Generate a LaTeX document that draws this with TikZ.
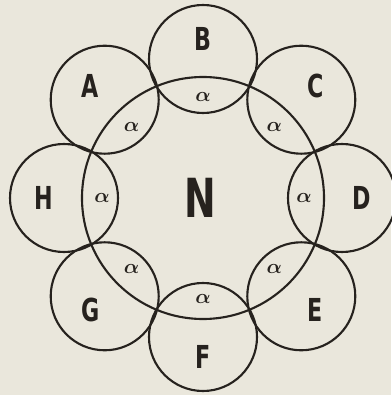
\documentclass[tikz,border=0pt]{standalone}
\usepackage{fontspec}
\usepackage{bm}
\newfontfamily\lblfont{DejaVu Sans Condensed}
\definecolor{paper}{RGB}{234,231,220}
\definecolor{ink}{RGB}{38,34,30}
\newcommand{\narrow}[1]{\scalebox{0.78}[1]{#1}}
\begin{document}
\begin{tikzpicture}[x=0.03cm,y=0.03cm]
  % radii (in pixels of the original)
  \def\R{121}   % big circle N
  \def\r{54}    % small circles
  \def\d{139}   % distance of small centres
  \def\t{159}   % letter radius
  \def\a{101}   % alpha radius

  % paper
  \fill[paper] (-203,-197) rectangle (188,198);
  \useasboundingbox (-203,-197) rectangle (188,198);

  \tikzset{ring/.style={draw=ink, line width=1.8pt},
           letter/.style={text=ink, font=\lblfont\bfseries\fontsize{27}{27}\selectfont},
           alf/.style={text=ink, font=\fontsize{18}{18}\selectfont}}

  % big circle
  \draw[ring] (0,0) circle (\R);
  \node[letter, font=\lblfont\bfseries\fontsize{46}{46}\selectfont] (N) at (-3,0) {\narrow{N}};

  % B on top, then clockwise
  \draw[ring] (90:\d) circle (\r);
  \node[letter] (B) at (90:\t) {\narrow{B}};
  \node[alf] (aB) at (90:\a) {$\bm\alpha$};

  % C
  \draw[ring] (45:\d) circle (\r);
  \node[letter] (C) at (45:\t) {\narrow{C}};
  \node[alf] (aC) at (45:\a) {$\bm\alpha$};

  % D
  \draw[ring] (0:\d) circle (\r);
  \node[letter] (D) at (0:\t) {\narrow{D}};
  \node[alf] (aD) at (0:\a) {$\bm\alpha$};

  % E
  \draw[ring] (-45:\d) circle (\r);
  \node[letter] (E) at (-45:\t) {\narrow{E}};
  \node[alf] (aE) at (-45:\a) {$\bm\alpha$};

  % F
  \draw[ring] (-90:\d) circle (\r);
  \node[letter] (F) at (-90:\t) {\narrow{F}};
  \node[alf] (aF) at (-90:\a) {$\bm\alpha$};

  % G
  \draw[ring] (-135:\d) circle (\r);
  \node[letter] (G) at (-135:\t) {\narrow{G}};
  \node[alf] (aG) at (-135:\a) {$\bm\alpha$};

  % H
  \draw[ring] (180:\d) circle (\r);
  \node[letter] (H) at (180:\t) {\narrow{H}};
  \node[alf] (aH) at (180:\a) {$\bm\alpha$};

  % A
  \draw[ring] (135:\d) circle (\r);
  \node[letter] (A) at (135:\t) {\narrow{A}};
  \node[alf] (aA) at (135:\a) {$\bm\alpha$};
\end{tikzpicture}
\end{document}
